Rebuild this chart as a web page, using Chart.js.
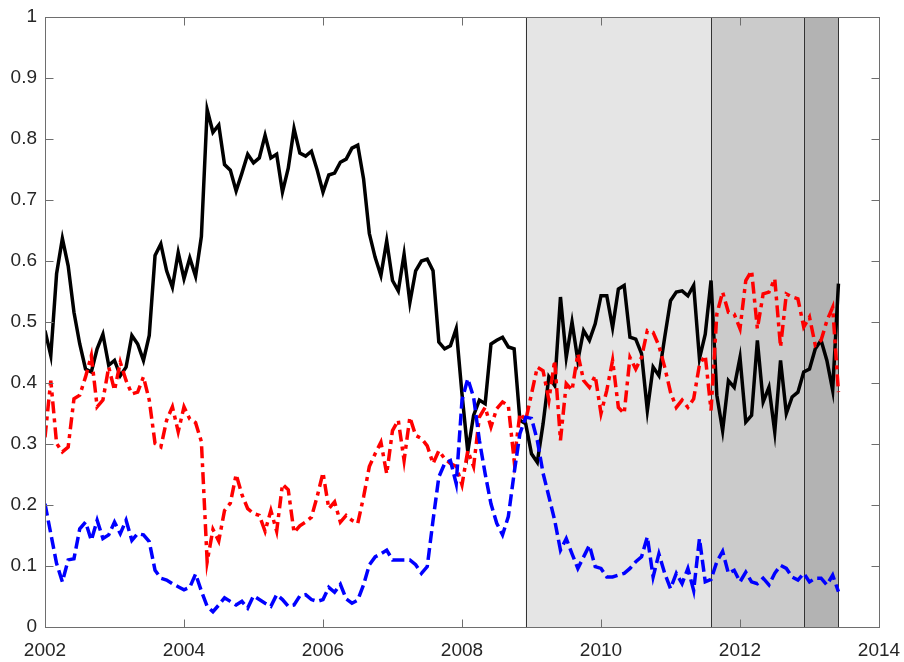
<!DOCTYPE html>
<html>
<head>
<meta charset="utf-8">
<script src="https://cdn.jsdelivr.net/npm/chart.js@4"></script>
<style>
  html, body { margin: 0; padding: 0; background: #fff; }
  #wrap { width: 904px; height: 662px; }
</style>
</head>
<body>
<div id="wrap"><canvas id="c" width="904" height="662"></canvas></div>
<script>
// ---- data (monthly, Jan 2002 .. Jun 2013) ----
const startYear = 2002;
const monthsPerYear = 12;

const blackSeries = [
  0.486,0.445,0.579,0.637,0.592,0.516,0.464,0.423,0.418,0.456,0.480,0.429,
  0.437,0.412,0.426,0.478,0.464,0.437,0.478,0.609,0.628,0.584,0.557,0.614,
  0.571,0.605,0.575,0.640,0.848,0.811,0.823,0.758,0.749,0.715,0.744,0.775,
  0.761,0.769,0.806,0.769,0.775,0.713,0.752,0.817,0.777,0.772,0.780,0.749,
  0.713,0.741,0.744,0.762,0.767,0.785,0.790,0.735,0.645,0.606,0.576,0.633,
  0.568,0.551,0.611,0.532,0.584,0.600,0.603,0.584,0.467,0.456,0.461,0.489,
  0.382,0.287,0.347,0.372,0.366,0.464,0.470,0.475,0.459,0.456,0.339,0.333,
  0.284,0.270,0.333,0.410,0.396,0.541,0.442,0.500,0.437,0.486,0.470,0.497,
  0.543,0.543,0.491,0.554,0.560,0.475,0.472,0.448,0.355,0.426,0.412,0.475,
  0.535,0.549,0.551,0.543,0.560,0.440,0.480,0.568,0.380,0.322,0.404,0.393,
  0.442,0.336,0.347,0.470,0.369,0.393,0.320,0.437,0.350,0.377,0.385,0.418,
  0.423,0.456,0.470,0.437,0.388,0.563
];

const redSeries = [
  0.311,0.404,0.301,0.287,0.295,0.374,0.380,0.410,0.445,0.361,0.372,0.426,
  0.388,0.434,0.404,0.382,0.385,0.410,0.372,0.301,0.295,0.339,0.361,0.320,
  0.361,0.341,0.335,0.304,0.107,0.160,0.141,0.191,0.203,0.250,0.217,0.194,
  0.186,0.183,0.157,0.191,0.157,0.234,0.225,0.155,0.166,0.172,0.180,0.214,
  0.253,0.194,0.205,0.172,0.183,0.175,0.170,0.213,0.263,0.284,0.303,0.251,
  0.322,0.339,0.273,0.344,0.314,0.309,0.297,0.268,0.289,0.276,0.268,0.263,
  0.233,0.289,0.263,0.344,0.360,0.328,0.358,0.369,0.363,0.273,0.350,0.339,
  0.382,0.426,0.420,0.372,0.437,0.306,0.399,0.388,0.448,0.404,0.393,0.412,
  0.350,0.388,0.437,0.360,0.350,0.442,0.423,0.442,0.486,0.483,0.461,0.426,
  0.385,0.360,0.372,0.360,0.374,0.430,0.445,0.355,0.513,0.549,0.516,0.513,
  0.489,0.568,0.584,0.489,0.546,0.549,0.571,0.459,0.546,0.541,0.538,0.492,
  0.508,0.462,0.470,0.502,0.524,0.385
];

const blueSeries = [
  0.202,0.153,0.104,0.074,0.110,0.112,0.161,0.172,0.142,0.175,0.145,0.151,
  0.172,0.153,0.175,0.142,0.153,0.151,0.140,0.093,0.080,0.077,0.071,0.066,
  0.061,0.065,0.087,0.059,0.034,0.025,0.036,0.048,0.042,0.036,0.042,0.031,
  0.051,0.045,0.039,0.034,0.053,0.045,0.034,0.036,0.051,0.053,0.045,0.042,
  0.045,0.065,0.057,0.070,0.046,0.039,0.044,0.069,0.102,0.115,0.120,0.126,
  0.110,0.110,0.110,0.110,0.102,0.088,0.099,0.175,0.246,0.268,0.273,0.235,
  0.372,0.407,0.377,0.306,0.251,0.202,0.170,0.151,0.181,0.252,0.317,0.344,
  0.342,0.306,0.252,0.214,0.175,0.126,0.145,0.120,0.096,0.115,0.134,0.099,
  0.096,0.082,0.082,0.085,0.088,0.096,0.107,0.115,0.148,0.082,0.120,0.088,
  0.063,0.088,0.071,0.096,0.060,0.145,0.074,0.078,0.107,0.124,0.088,0.093,
  0.074,0.090,0.074,0.071,0.080,0.069,0.088,0.101,0.096,0.082,0.077,0.088,
  0.074,0.080,0.080,0.069,0.085,0.058
];

// shaded periods (decimal years)
const shadeStarts = [2008.917, 2011.583, 2012.917];
const shadeEnds   = [2011.583, 2012.917, 2013.417];
const shadeColors = ['#e5e5e5', '#cbcbcb', '#b3b3b3'];

// axis ticks
const xTicks = [2002, 2004, 2006, 2008, 2010, 2012, 2014];
const yTicks = [0, 0.1, 0.2, 0.3, 0.4, 0.5, 0.6, 0.7, 0.8, 0.9, 1];

// ---- build points ----
function toPoints(series) {
  return series.map((v, i) => ({ x: startYear + i / monthsPerYear, y: v }));
}

const FONT = { family: '"Liberation Sans", Arial, Helvetica, sans-serif', size: 19 };

const shadePlugin = {
  id: 'shade',
  beforeDatasetsDraw(chart) {
    const { ctx, chartArea: a, scales: { x } } = chart;
    ctx.save();
    for (let k = 0; k < shadeStarts.length; k++) {
      const x0 = x.getPixelForValue(shadeStarts[k]);
      const x1 = x.getPixelForValue(shadeEnds[k]);
      ctx.fillStyle = shadeColors[k];
      ctx.fillRect(x0, a.top, x1 - x0, a.bottom - a.top);
    }
    ctx.strokeStyle = '#333';
    ctx.lineWidth = 1;
    const edges = [...shadeStarts, shadeEnds[shadeEnds.length - 1]];
    edges.forEach(v => {
      const px = Math.round(x.getPixelForValue(v)) + 0.5;
      ctx.beginPath();
      ctx.moveTo(px, a.top);
      ctx.lineTo(px, a.bottom);
      ctx.stroke();
    });
    ctx.restore();
  },
  afterDatasetsDraw(chart) {
    const { ctx, chartArea: a, scales: { x, y } } = chart;
    ctx.save();
    ctx.strokeStyle = '#6e6e6e';
    ctx.lineWidth = 1;
    const L = Math.round(a.left) + 0.5, R = Math.round(a.right) + 0.5;
    const T = Math.round(a.top) + 0.5, B = Math.round(a.bottom) + 0.5;
    ctx.strokeRect(L, T, R - L, B - T);
    const tl = 8;
    ctx.beginPath();
    xTicks.forEach(v => {
      const px = Math.round(x.getPixelForValue(v)) + 0.5;
      ctx.moveTo(px, B); ctx.lineTo(px, B - tl);
      ctx.moveTo(px, T); ctx.lineTo(px, T + tl);
    });
    yTicks.forEach(v => {
      const py = Math.round(y.getPixelForValue(v)) + 0.5;
      ctx.moveTo(L, py); ctx.lineTo(L + tl, py);
      ctx.moveTo(R, py); ctx.lineTo(R - tl, py);
    });
    ctx.stroke();
    ctx.restore();
  }
};

new Chart(document.getElementById('c'), {
  type: 'line',
  data: {
    datasets: [
      {
        data: toPoints(blueSeries),
        borderColor: '#0000ff',
        borderWidth: 3.5,
        borderDash: [12, 5],
        borderJoinStyle: 'miter',
        borderCapStyle: 'butt',
        pointRadius: 0,
        tension: 0,
        fill: false
      },
      {
        data: toPoints(redSeries),
        borderColor: '#ff0000',
        borderWidth: 3.5,
        borderDash: [12, 5, 4, 5],
        borderJoinStyle: 'miter',
        borderCapStyle: 'butt',
        pointRadius: 0,
        tension: 0,
        fill: false
      },
      {
        data: toPoints(blackSeries),
        borderColor: '#000000',
        borderWidth: 3.5,
        borderJoinStyle: 'miter',
        borderCapStyle: 'butt',
        pointRadius: 0,
        tension: 0,
        fill: false
      }
    ]
  },
  options: {
    responsive: false,
    animation: false,
    devicePixelRatio: 1,
    layout: { padding: { top: 17, right: 25, left: 0, bottom: 0 } },
    plugins: { legend: { display: false }, tooltip: { enabled: false } },
    scales: {
      x: {
        type: 'linear',
        min: 2002, max: 2014,
        border: { display: false },
        grid: { display: false, drawTicks: false },
        afterBuildTicks: s => { s.ticks = xTicks.map(v => ({ value: v })); },
        afterFit: s => { s.height = 35; s.paddingLeft = 0; s.paddingRight = 0; },
        ticks: { color: '#262626', font: FONT, padding: 12, maxRotation: 0, callback: v => String(v) }
      },
      y: {
        type: 'linear',
        min: 0, max: 1,
        border: { display: false },
        grid: { display: false, drawTicks: false },
        afterBuildTicks: s => { s.ticks = yTicks.map(v => ({ value: v })); },
        afterFit: s => { s.width = 45; s.paddingTop = 0; s.paddingBottom = 0; },
        ticks: { color: '#262626', font: FONT, padding: 8, callback: v => String(Math.round(v * 10) / 10) }
      }
    }
  },
  plugins: [shadePlugin]
});
</script>
</body>
</html>
